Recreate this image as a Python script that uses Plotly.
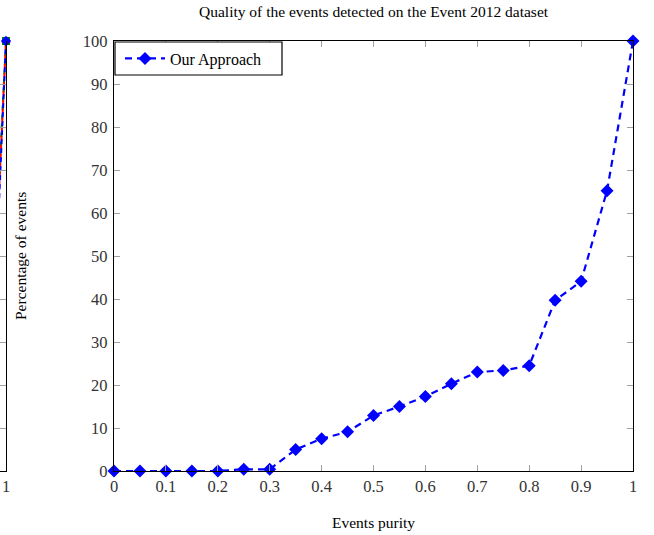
import plotly.graph_objects as go

# Main series
purity = [0, 0.05, 0.1, 0.15, 0.2, 0.25, 0.3, 0.35, 0.4, 0.45, 0.5,
          0.55, 0.6, 0.65, 0.7, 0.75, 0.8, 0.85, 0.9, 0.95, 1.0]
our_approach = [0, 0, 0, 0, 0, 0.4, 0.4, 5.0, 7.5, 9.1, 12.9,
                15.0, 17.3, 20.3, 23.0, 23.4, 24.5, 39.7, 44.1, 65.2, 100]

x_ticks = [0, 0.1, 0.2, 0.3, 0.4, 0.5, 0.6, 0.7, 0.8, 0.9, 1]
x_tick_labels = ["0", "0.1", "0.2", "0.3", "0.4", "0.5", "0.6", "0.7", "0.8", "0.9", "1"]
y_ticks = [0, 10, 20, 30, 40, 50, 60, 70, 80, 90, 100]

# Fragment of the neighbouring chart (cut off at the left edge)
frag_x = [0.975, 1.0]
frag_red = [35, 100]
frag_blue = [30, 100]
frag_green = [40, 100]

W, H = 654, 535
ML, MR, MT, MB = 0, 21, 41, 64
PW = W - ML - MR
PH = H - MT - MB

serif = "Liberation Serif, Times New Roman, serif"

fig = go.Figure()

fig.add_trace(go.Scatter(
    x=purity, y=our_approach, mode="lines+markers", name="Our Approach",
    line=dict(color="#0000ff", width=2.2, dash="7px,5px"),
    marker=dict(symbol="diamond", size=10, color="#0000ff"),
    cliponaxis=False, xaxis="x", yaxis="y"))

for vals, col, sym in [(frag_green, "#008000", "square"),
                       (frag_red, "#ff0000", "triangle-up"),
                       (frag_blue, "#0000ff", "diamond")]:
    fig.add_trace(go.Scatter(
        x=frag_x, y=vals, mode="lines+markers", showlegend=False,
        line=dict(color=col, width=2, dash="5px,4px"),
        marker=dict(symbol=sym, size=8, color=col),
        cliponaxis=False, xaxis="x2", yaxis="y2"))

axis_common = dict(showgrid=False, zeroline=False, showline=True,
                   linecolor="black", linewidth=1.2, ticks="inside",
                   ticklen=6, tickcolor="#a0a0a0", tickwidth=1.2,
                   tickfont=dict(family=serif, size=16.5, color="#333"))

main_left = 114 / PW
legend_box = dict(x0=115, x1=282, y0=42, y1=75)  # pixel box of the legend frame
fig.update_layout(
    width=W, height=H,
    margin=dict(l=ML, r=MR, t=MT, b=MB, autoexpand=False),
    paper_bgcolor="white", plot_bgcolor="white",
    showlegend=True,
    legend=dict(x=main_left + 6 / PW, y=1 - (58.5 - 41) / PH,
                xanchor="left", yanchor="middle",
                borderwidth=0, bgcolor="rgba(0,0,0,0)",
                font=dict(family=serif, size=16, color="black"),
                itemwidth=40, tracegroupgap=0),
    xaxis=dict(domain=[main_left, 1], range=[0, 1], tickvals=x_ticks,
               ticktext=x_tick_labels, mirror="allticks", anchor="y",
               **axis_common),
    yaxis=dict(domain=[0, 1], range=[0, 100], tickvals=y_ticks,
               mirror="allticks", anchor="x", ticklabelstandoff=2,
               **axis_common),
    xaxis2=dict(domain=[0, 6 / PW], range=[1 - 6 / 519, 1], tickvals=[1],
                ticktext=["1"], anchor="y2", **axis_common),
    yaxis2=dict(domain=[0, 1], range=[0, 100], tickvals=y_ticks,
                side="right", anchor="x2", showticklabels=False,
                **axis_common),
    shapes=[dict(type="rect", xref="paper", yref="paper",
                 x0=legend_box["x0"] / PW, x1=legend_box["x1"] / PW,
                 y0=1 - (legend_box["y1"] - MT) / PH,
                 y1=1 - (legend_box["y0"] - MT) / PH,
                 line=dict(color="black", width=1.2),
                 fillcolor="white", layer="above")],
    annotations=[
        dict(text="Quality of the events detected on the Event 2012 dataset",
             xref="paper", yref="paper", x=(main_left + 1) / 2, y=1 + 29 / PH,
             xanchor="center", yanchor="middle", showarrow=False,
             font=dict(family=serif, size=15.5, color="black")),
        dict(text="Events purity", xref="paper", yref="paper",
             x=(main_left + 1) / 2, y=-(522 - 471) / PH,
             xanchor="center", yanchor="middle", showarrow=False,
             font=dict(family=serif, size=15.5, color="black")),
        dict(text="Percentage of events", xref="paper", yref="paper",
             x=20 / PW, y=0.5, xanchor="center", yanchor="middle",
             textangle=-90, showarrow=False,
             font=dict(family=serif, size=15.5, color="black")),
    ],
)

fig.write_html("out.html", config={"displayModeBar": False},
               post_script="document.body.style.margin='0';"
                           "document.documentElement.style.overflow='hidden';")
